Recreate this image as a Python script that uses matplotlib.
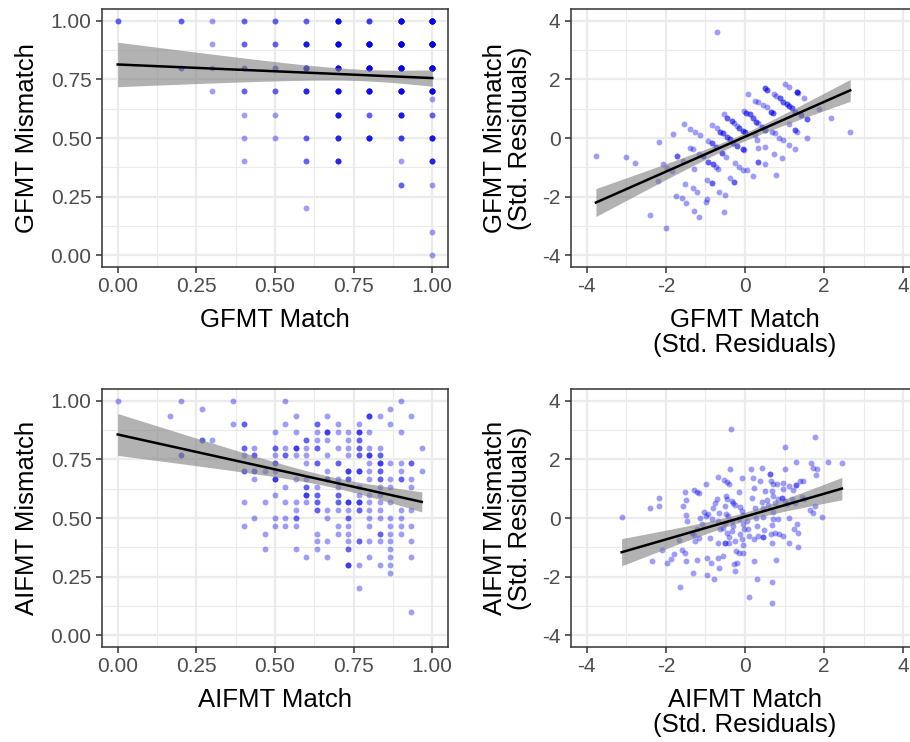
import numpy as np
import matplotlib
matplotlib.use("Agg")
import matplotlib.pyplot as plt

plt.rcParams["font.family"] = ["Liberation Sans", "DejaVu Sans"]
plt.rcParams["axes.unicode_minus"] = False

# ------------------------------------------------------------------
# Data
# ------------------------------------------------------------------

# GFMT raw proportions: (match, mismatch, number of participants)
GFMT_CELLS = [
    (1.0, 1.0, 12), (1.0, 0.9, 14), (1.0, 0.8, 12), (1.0, 0.7, 8), (1.0, 0.667, 1),
    (1.0, 0.6, 2), (1.0, 0.5, 5), (1.0, 0.4, 4), (1.0, 0.3, 1), (1.0, 0.1, 1), (1.0, 0.0, 1),
    (0.9, 1.0, 10), (0.9, 0.9, 14), (0.9, 0.8, 12), (0.9, 0.7, 8), (0.9, 0.6, 5),
    (0.9, 0.5, 3), (0.9, 0.4, 1), (0.9, 0.3, 2),
    (0.8, 1.0, 3), (0.8, 0.9, 10), (0.8, 0.8, 10), (0.8, 0.7, 7), (0.8, 0.6, 2), (0.8, 0.5, 5),
    (0.7, 1.0, 6), (0.7, 0.9, 8), (0.7, 0.8, 7), (0.7, 0.7, 6), (0.7, 0.6, 5),
    (0.7, 0.5, 4), (0.7, 0.4, 4),
    (0.6, 1.0, 2), (0.6, 0.9, 5), (0.6, 0.8, 5), (0.6, 0.7, 4), (0.6, 0.5, 2),
    (0.6, 0.4, 2), (0.6, 0.2, 1),
    (0.5, 1.0, 2), (0.5, 0.9, 2), (0.5, 0.8, 2), (0.5, 0.7, 2), (0.5, 0.6, 1), (0.5, 0.5, 1),
    (0.4, 1.0, 2), (0.4, 0.9, 2), (0.4, 0.8, 2), (0.4, 0.7, 2), (0.4, 0.6, 1),
    (0.4, 0.5, 1), (0.4, 0.4, 1),
    (0.3, 1.0, 1), (0.3, 0.9, 1), (0.3, 0.8, 1), (0.3, 0.7, 1),
    (0.2, 1.0, 2), (0.2, 0.8, 2),
    (0.0, 1.0, 2),
]

# AIFMT raw scores in items correct out of 30: (match, mismatch, participants)
AIFMT_CELLS = [
    (0, 30, 1), (6, 30, 1), (11, 30, 1), (16, 30, 1), (27, 30, 1),
    (8, 29, 1), (26, 29, 1),
    (5, 28, 1), (17, 28, 1), (20, 28, 1), (24, 28, 3), (25, 28, 1), (28, 28, 1),
    (11, 27, 1), (12, 27, 2), (16, 27, 1), (19, 27, 2), (21, 27, 1), (23, 27, 1), (26, 27, 1),
    (15, 26, 1), (17, 26, 1), (19, 26, 1), (20, 26, 3), (21, 26, 1), (22, 26, 1),
    (23, 26, 3), (24, 26, 1), (27, 26, 1),
    (8, 25, 2), (9, 25, 1), (18, 25, 2), (19, 25, 1), (20, 25, 1), (22, 25, 1), (23, 25, 2),
    (12, 24, 2), (13, 24, 1), (15, 24, 2), (16, 24, 1), (17, 24, 3), (18, 24, 1), (19, 24, 2),
    (21, 24, 1), (22, 24, 1), (23, 24, 2), (24, 24, 1), (25, 24, 1), (29, 24, 1),
    (6, 23, 2), (12, 23, 1), (13, 23, 2), (15, 23, 1), (16, 23, 2), (17, 23, 1), (18, 23, 1),
    (20, 23, 1), (22, 23, 1), (23, 23, 2), (24, 23, 3), (25, 23, 2),
    (15, 22, 2), (18, 22, 1), (19, 22, 2), (21, 22, 2), (24, 22, 1), (25, 22, 3),
    (26, 22, 1), (27, 22, 1), (28, 22, 2),
    (12, 21, 2), (13, 21, 2), (14, 21, 1), (15, 21, 1), (20, 21, 1), (22, 21, 3), (23, 21, 3),
    (24, 21, 1), (25, 21, 2), (27, 21, 1), (29, 21, 1),
    (13, 20, 1), (15, 20, 3), (17, 20, 1), (18, 20, 1), (20, 20, 2), (21, 20, 1), (22, 20, 2),
    (24, 20, 1), (25, 20, 2), (26, 20, 1), (27, 20, 2), (28, 20, 1),
    (16, 19, 1), (18, 19, 2), (19, 19, 1), (21, 19, 1), (23, 19, 1), (25, 19, 1),
    (26, 19, 1), (28, 19, 1),
    (15, 18, 1), (18, 18, 3), (19, 18, 2), (21, 18, 2), (23, 18, 1), (24, 18, 1), (25, 18, 1),
    (12, 17, 1), (14, 17, 1), (16, 17, 1), (17, 17, 1), (18, 17, 1), (19, 17, 2), (21, 17, 2),
    (22, 17, 3), (23, 17, 3), (24, 17, 1), (25, 17, 1), (26, 17, 1),
    (17, 16, 1), (19, 16, 2), (20, 16, 1), (21, 16, 1), (22, 16, 1), (23, 16, 2),
    (24, 16, 1), (25, 16, 1), (27, 16, 1), (28, 16, 1),
    (13, 15, 1), (15, 15, 1), (16, 15, 1), (17, 15, 2), (20, 15, 1), (22, 15, 2),
    (24, 15, 1), (25, 15, 1), (26, 15, 1), (27, 15, 1),
    (12, 14, 1), (15, 14, 1), (16, 14, 1), (17, 14, 1), (21, 14, 1), (22, 14, 1),
    (24, 14, 1), (26, 14, 1), (27, 14, 1), (28, 14, 1),
    (14, 13, 1), (19, 13, 1), (21, 13, 1), (22, 13, 1), (25, 13, 2), (26, 13, 1), (27, 13, 1),
    (19, 12, 1), (20, 12, 1), (22, 12, 1), (23, 12, 2), (24, 12, 1), (25, 12, 1),
    (26, 12, 1), (28, 12, 1),
    (14, 11, 1), (17, 11, 1), (19, 11, 1), (22, 11, 2), (26, 11, 1),
    (18, 10, 1), (20, 10, 1), (24, 10, 1), (26, 10, 1), (28, 10, 1),
    (22, 9, 3), (23, 9, 1), (25, 9, 1), (26, 9, 1),
    (26, 8, 1), (23, 6, 1), (28, 3, 1),
]
AIFMT_ITEMS = 30

# GFMT standardised residuals: (match, mismatch); repeated pairs are overplotted points
GFMT_RESID = [
    (-3.77, -0.60), (-3.02, -0.64), (-2.78, -0.84), (-2.18, -0.13), (-1.83, 0.14),
    (-1.53, 0.49), (-1.38, 0.32), (-1.26, 0.22), (-1.14, 0.10), (-1.71, -0.60),
    (-1.71, -0.60), (-1.56, -0.77), (-1.39, -0.33), (-1.32, -0.39), (-2.08, -0.90),
    (-1.98, -1.03), (-1.85, -1.11), (-2.19, -1.47), (-1.29, -1.06), (-1.52, -1.57),
    (-1.31, -1.69), (-1.21, -1.84), (-1.75, -1.97), (-1.60, -2.06), (-1.48, -2.23),
    (-1.29, -2.48), (-1.16, -2.69), (-0.97, -2.09), (-0.99, -2.19), (-2.39, -2.61),
    (-2.00, -3.06), (-0.95, -1.43), (-0.84, -1.55), (-0.84, -1.55), (-0.65, -1.83),
    (-0.51, -1.94), (-0.52, -2.53), (-1.16, -0.56), (-1.05, -0.61), (-0.93, -0.81),
    (-0.82, -0.89), (-0.73, -0.98), (-0.68, -1.07), (-0.93, -0.10), (-0.84, -0.18),
    (-0.73, -0.30), (-0.59, -0.52), (-0.48, -0.64), (-0.38, -1.38), (-0.28, -1.51),
    (-0.28, -1.51), (-0.25, -0.84), (-0.14, -0.98), (-0.04, -1.09), (0.04, -1.09),
    (0.21, -1.28), (-0.84, 0.43), (-0.72, 0.34), (-0.63, 0.22), (-0.55, 0.16),
    (-0.46, 0.05), (-0.38, -0.05), (-0.30, -0.18), (-0.21, -0.27), (-0.06, -0.39),
    (-0.06, -0.39), (-0.03, -0.41), (-0.53, 0.81), (-0.45, 0.67), (-0.34, 0.58),
    (-0.28, 0.50), (-0.21, 0.41), (-0.14, 0.33), (-0.06, 0.25), (0.00, 0.22),
    (-0.03, 0.93), (0.03, 0.84), (0.13, 0.81), (0.21, 0.67), (0.28, 0.56),
    (0.34, 0.50), (0.42, 0.39), (0.51, 0.27), (0.25, 0.10), (0.30, -0.07),
    (0.34, -0.35), (0.51, -0.30), (0.34, -0.81), (0.34, -0.81), (0.51, -0.89),
    (0.07, 1.50), (0.25, 1.27), (0.34, 1.22), (0.45, 1.13), (0.55, 1.07),
    (0.65, 0.90), (0.70, 0.84), (0.51, 1.69), (0.51, 1.69), (0.55, 1.64),
    (0.74, 1.49), (0.78, 1.43), (0.89, 1.35), (0.97, 1.24), (1.05, 1.15),
    (1.12, 1.09), (1.18, 1.01), (1.27, 0.90), (0.68, 0.22), (0.76, 0.16),
    (0.87, -0.01), (0.95, -0.07), (1.10, -0.24), (1.27, -0.39), (0.74, -0.56),
    (0.93, -0.69), (0.78, -1.26), (1.01, 1.84), (1.12, 1.75), (1.31, 1.56),
    (1.31, 1.56), (1.35, 1.52), (1.49, 1.35), (1.41, 0.78), (1.56, 0.64),
    (1.10, 0.48), (1.27, 0.27), (1.27, 0.27), (1.31, 0.22), (1.56, 0.01),
    (1.88, 0.98), (2.17, 0.69), (2.66, 0.22), (-0.72, 3.60),
    # overplotted points in the dense diagonal stripes
    (1.31, 1.56), (0.97, 1.24), (1.05, 1.15), (1.12, 1.09), (0.55, 1.64),
    (-0.06, 0.25), (0.00, 0.22), (-0.14, 0.33), (0.42, 0.39), (0.51, 0.27),
    (-0.45, 0.67), (-0.34, 0.58), (-0.84, -0.18), (-0.73, -0.30), (-0.93, -0.81),
    (-0.82, -0.89), (0.21, 0.67), (0.28, 0.56), (1.18, 1.01), (1.27, 0.90),
    (-0.21, -0.27), (-0.30, -0.18), (0.89, 1.35), (-1.05, -0.61), (-0.59, -0.52),
    (1.56, 0.64), (1.41, 0.78), (-0.63, 0.22), (-0.55, 0.16), (0.65, 0.90),
    (0.70, 0.84), (-0.38, -0.05), (-0.46, 0.05), (0.13, 0.81), (0.03, 0.84),
]

# AIFMT standardised residuals: (match, mismatch)
AIFMT_RESID = [
    (-3.12, 0.02), (-2.39, 0.35), (-2.17, 0.69), (-2.17, 0.40), (-2.34, -1.45),
    (-2.11, -1.10), (-1.96, -1.52), (-1.86, -1.39), (-1.80, -1.23), (-1.65, -2.34),
    (-1.60, -1.10), (-1.52, -1.18), (-1.49, -1.48), (-1.66, -0.76), (-1.56, 0.41),
    (-1.50, 0.61), (-1.52, 0.89), (-1.49, 0.10), (-1.46, -0.11), (-1.32, -1.86),
    (-1.29, 0.95), (-1.21, 0.89), (-1.16, 0.84), (-1.14, 0.00), (-1.10, -0.22),
    (-1.22, -0.39), (-1.28, -0.58), (-1.35, -0.50), (-1.27, -0.78), (-1.16, -0.67),
    (-1.22, -1.43), (-1.04, 0.20), (-0.99, 1.15), (-0.99, 0.07), (-0.93, 0.13),
    (-0.97, -1.36), (-0.97, -1.93), (-0.89, -0.67), (-0.84, -0.05), (-0.80, 0.35),
    (-0.76, 0.52), (-0.70, 0.66), (-0.68, 1.41), (-0.66, 0.16), (-0.68, -0.10),
    (-0.63, -0.39), (-0.68, -0.86), (-0.68, -1.35), (-0.79, -2.09), (-0.87, -1.52),
    (-0.66, -1.69), (-0.55, -1.30), (-0.53, 1.30), (-0.46, 1.23), (-0.40, 1.15),
    (-0.48, 0.75), (-0.45, 0.64), (-0.51, 0.41), (-0.48, 0.15), (-0.42, 0.07),
    (-0.51, -0.16), (-0.55, -0.35), (-0.46, -0.50), (-0.51, -0.84), (-0.51, -0.84),
    (-0.40, -0.84), (-0.38, 1.66), (-0.36, 3.02), (-0.34, 0.58), (-0.30, 0.52),
    (-0.25, 0.43), (-0.34, -0.10), (-0.31, -0.27), (-0.34, -0.44), (-0.40, -0.64),
    (-0.25, -0.78), (-0.23, -1.13), (-0.19, -1.52), (-0.28, -1.56), (-0.25, -1.81),
    (-0.14, 0.89), (-0.13, 0.39), (-0.08, 0.24), (-0.04, 0.10), (-0.14, -0.05),
    (-0.06, -0.22), (-0.03, -0.39), (-0.13, -0.56), (-0.08, -0.73), (-0.06, -0.93),
    (-0.14, -1.18), (-0.04, -1.18), (-0.08, 1.38), (0.04, -0.10), (0.07, -0.39),
    (0.11, -0.61), (0.14, 1.68), (0.17, 0.69), (0.21, 1.38), (0.23, 1.03),
    (0.25, 0.35), (0.28, 0.01), (0.30, -0.27), (0.23, -0.73), (0.23, -1.47),
    (0.11, -2.68), (0.31, -2.09), (0.34, -0.61), (0.38, 1.26), (0.42, 1.69),
    (0.42, 0.55), (0.45, 0.34), (0.46, 0.03), (0.48, -0.42), (0.45, -0.64),
    (0.45, -0.64), (0.51, 0.92), (0.55, 0.63), (0.59, 0.43), (0.63, 1.49),
    (0.63, 1.49), (0.65, 1.26), (0.68, 0.92), (0.70, 0.75), (0.72, 0.20),
    (0.72, -0.05), (0.68, -0.25), (0.65, -0.56), (0.68, -0.84), (0.70, 1.17),
    (0.76, 0.52), (0.76, -0.51), (0.78, -1.43), (0.68, -2.19), (0.68, -2.91),
    (0.80, 1.15), (0.84, 0.64), (0.84, -0.02), (0.87, -0.56), (0.93, 0.69),
    (0.93, 0.69), (0.95, 0.98), (0.97, 1.20), (1.00, 1.68), (1.02, 2.43),
    (0.97, -0.61), (1.01, 0.57), (1.05, 0.47), (1.10, 1.09), (1.12, 0.01),
    (1.12, -0.84), (1.18, 0.64), (1.22, 0.95), (1.24, -0.39), (1.29, 1.91),
    (1.29, 1.11), (1.29, 1.11), (1.27, 0.52), (1.32, -0.22), (1.35, -0.50),
    (1.35, -0.98), (1.39, 1.26), (1.46, 1.26), (1.43, 0.73), (1.48, 0.66),
    (1.66, 1.86), (1.73, 1.72), (1.77, 2.77), (1.80, 1.45), (1.83, 1.68),
    (1.65, 0.28), (1.73, 0.17), (1.76, 0.40), (1.94, 0.02), (2.11, 1.92),
    (2.45, 1.89),
]

PROP_TICKS = [0.0, 0.25, 0.5, 0.75, 1.0]
PROP_LABELS = ["0.00", "0.25", "0.50", "0.75", "1.00"]
RESID_TICKS = [-4, -2, 0, 2, 4]
RESID_LABELS = ["-4", "-2", "0", "2", "4"]

TITLES = {
    "gfmt_raw": ("GFMT Match", "GFMT Mismatch"),
    "gfmt_res": ("GFMT Match\n(Std. Residuals)", "GFMT Mismatch\n(Std. Residuals)"),
    "aifmt_raw": ("AIFMT Match", "AIFMT Mismatch"),
    "aifmt_res": ("AIFMT Match\n(Std. Residuals)", "AIFMT Mismatch\n(Std. Residuals)"),
}


# ------------------------------------------------------------------
# Helpers
# ------------------------------------------------------------------

def expand_cells(cells, scale=1.0):
    x, y, n = (np.array(c, dtype=float) for c in zip(*cells))
    reps = n.astype(int)
    return np.repeat(x, reps) / scale, np.repeat(y, reps) / scale


def lm_band(x, y, t_crit=1.97):
    """Straight-line fit with a 95% confidence band, like geom_smooth(method='lm')."""
    n = len(x)
    slope, icpt = np.polyfit(x, y, 1)
    xs = np.linspace(x.min(), x.max(), 100)
    fit = icpt + slope * xs
    resid = y - (icpt + slope * x)
    s = np.sqrt((resid ** 2).sum() / (n - 2))
    sxx = ((x - x.mean()) ** 2).sum()
    se = s * np.sqrt(1.0 / n + (xs - x.mean()) ** 2 / sxx)
    return xs, fit, fit - t_crit * se, fit + t_crit * se


def style_axes(ax, ticks, labels, lim, minor):
    ax.set_xlim(lim)
    ax.set_ylim(lim)
    ax.set_xticks(ticks)
    ax.set_xticklabels(labels)
    ax.set_yticks(ticks)
    ax.set_yticklabels(labels)
    ax.set_xticks(minor, minor=True)
    ax.set_yticks(minor, minor=True)
    ax.grid(which="major", color="#EBEBEB", linewidth=1.6)
    ax.grid(which="minor", color="#EBEBEB", linewidth=0.8)
    ax.set_axisbelow(True)
    for sp in ax.spines.values():
        sp.set_color("#333333")
        sp.set_linewidth(1.1)
    ax.tick_params(which="major", length=4, width=1.1, color="#333333",
                   labelsize=15, labelcolor="#4D4D4D", pad=3.5)
    ax.tick_params(which="minor", length=0)


def draw_panel(ax, x, y, titles, kind):
    ax.scatter(x, y, s=18, color="#0000EE", alpha=0.38, linewidths=0, zorder=2)
    xs, fit, lo, hi = lm_band(x, y)
    ax.fill_between(xs, lo, hi, color="#7F7F7F", alpha=0.6, linewidth=0, zorder=3)
    ax.plot(xs, fit, color="black", linewidth=1.8, zorder=4)
    if kind == "raw":
        style_axes(ax, PROP_TICKS, PROP_LABELS, (-0.05, 1.05),
                   [0.125, 0.375, 0.625, 0.875])
        ypad = 8
    else:
        style_axes(ax, RESID_TICKS, RESID_LABELS, (-4.4, 4.4), [-3, -1, 1, 3])
        ypad = 7
    ax.set_xlabel(titles[0], fontsize=18.5, color="black", labelpad=8, linespacing=1.08)
    ax.set_ylabel(titles[1], fontsize=18.5, color="black", labelpad=ypad, linespacing=1.08)


# ------------------------------------------------------------------
# Figure
# ------------------------------------------------------------------

W, H = 910, 742
fig = plt.figure(figsize=(W / 100, H / 100), dpi=100)


def px_axes(left, top, right, bottom):
    return fig.add_axes([left / W, 1 - bottom / H, (right - left) / W, (bottom - top) / H])


ax_gr = px_axes(102, 9, 448, 267)
ax_gs = px_axes(571, 9, 919, 267)
ax_ar = px_axes(102, 389, 448, 647)
ax_as = px_axes(571, 389, 919, 647)

gx, gy = expand_cells(GFMT_CELLS)
draw_panel(ax_gr, gx, gy, TITLES["gfmt_raw"], "raw")

ax_x, ax_y = expand_cells(AIFMT_CELLS, scale=AIFMT_ITEMS)
draw_panel(ax_ar, ax_x, ax_y, TITLES["aifmt_raw"], "raw")

rx, ry = (np.array(v) for v in zip(*GFMT_RESID))
draw_panel(ax_gs, rx, ry, TITLES["gfmt_res"], "res")

sx, sy = (np.array(v) for v in zip(*AIFMT_RESID))
draw_panel(ax_as, sx, sy, TITLES["aifmt_res"], "res")

fig.savefig("out.png", dpi=100, facecolor="white")
plt.close(fig)
